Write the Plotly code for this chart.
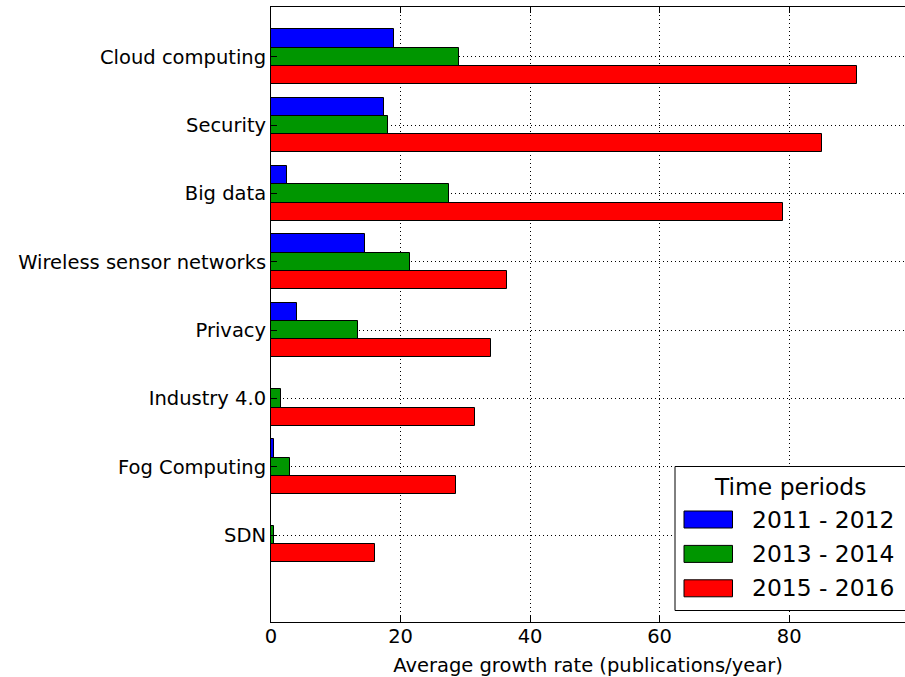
import plotly.graph_objects as go

# Average growth rate of publications per research topic
categories = [
    "Cloud computing",
    "Security",
    "Big data",
    "Wireless sensor networks",
    "Privacy",
    "Industry 4.0",
    "Fog Computing",
    "SDN",
]
period_labels = ["2011 - 2012", "2013 - 2014", "2015 - 2016"]
growth_2011_2012 = [19.0, 17.5, 2.5, 14.5, 4.0, 0.0, 0.5, 0.0]
growth_2013_2014 = [29.0, 18.0, 27.5, 21.5, 13.5, 1.5, 3.0, 0.5]
growth_2015_2016 = [90.5, 85.0, 79.0, 36.5, 34.0, 31.5, 28.5, 16.0]
x_ticks = [0, 20, 40, 60, 80]

series = [growth_2011_2012, growth_2013_2014, growth_2015_2016]
colors = ["#0000ff", "#009600", "#ff0000"]

W, H = 905, 677
PLOT_L, PLOT_R, PLOT_T, PLOT_B = 271, 905, 7, 622
FONT = "DejaVu Sans"
TICK_SIZE = 19.5
LEGEND_SIZE = 23.4

bar_w = 0.8 / 3
offsets = [-bar_w, 0.0, bar_w]

fig = go.Figure()
for vals, off, col, name in zip(series, offsets, colors, period_labels):
    fig.add_trace(go.Bar(
        x=vals,
        y=[i + off for i in range(len(categories))],
        orientation="h",
        width=bar_w,
        name=name,
        marker=dict(color=col, line=dict(color="black", width=1)),
        showlegend=False,
    ))


def px_x(x):
    return (x - PLOT_L) / (PLOT_R - PLOT_L)


def px_y(y):
    return (PLOT_B - y) / (PLOT_B - PLOT_T)


# Legend drawn as a framed box with wide swatches
shapes = [dict(type="rect", xref="paper", yref="paper",
               x0=px_x(675), x1=px_x(920), y0=px_y(610.5), y1=px_y(466.5),
               line=dict(color="black", width=1), fillcolor="white", layer="above")]
annotations = [dict(text="Time periods", xref="paper", yref="paper",
                    x=px_x(790), y=px_y(487), xanchor="center", yanchor="middle",
                    showarrow=False, font=dict(family=FONT, size=LEGEND_SIZE, color="black"))]
for k, (col, name) in enumerate(zip(colors, period_labels)):
    cy = 519.5 + k * 34.4
    shapes.append(dict(type="rect", xref="paper", yref="paper",
                       x0=px_x(684), x1=px_x(732.5), y0=px_y(cy + 8.5), y1=px_y(cy - 8.5),
                       line=dict(color="black", width=1), fillcolor=col, layer="above"))
    annotations.append(dict(text=name, xref="paper", yref="paper",
                            x=px_x(750), y=px_y(cy), xanchor="left", yanchor="middle",
                            showarrow=False,
                            font=dict(family=FONT, size=LEGEND_SIZE, color="black")))

unit = (PLOT_B - PLOT_T) / 9.0
y_top = -(56.8 - PLOT_T) / unit
y_bottom = y_top + 9.0

fig.update_layout(
    width=W, height=H,
    margin=dict(l=PLOT_L, r=W - PLOT_R, t=PLOT_T, b=H - PLOT_B),
    paper_bgcolor="white", plot_bgcolor="white",
    font=dict(family=FONT, size=TICK_SIZE, color="black"),
    barmode="overlay",
    bargap=0,
    shapes=shapes,
    annotations=annotations,
    xaxis=dict(
        range=[0, (PLOT_R - PLOT_L) / 6.477],
        tickvals=x_ticks,
        ticks="inside", ticklen=6, tickcolor="black", tickwidth=1,
        ticklabelstandoff=-3,
        showline=True, linecolor="black", linewidth=1, mirror="ticks",
        showgrid=True, gridcolor="black", gridwidth=1, griddash="1px,3px",
        zeroline=False,
        tickfont=dict(family=FONT, size=TICK_SIZE, color="black"),
        title=dict(text="Average growth rate (publications/year)", standoff=11,
                   font=dict(family=FONT, size=TICK_SIZE, color="black")),
    ),
    yaxis=dict(
        range=[y_bottom, y_top],
        tickvals=list(range(len(categories))),
        ticktext=categories,
        ticks="inside", ticklen=6, tickcolor="black", tickwidth=1,
        showline=True, linecolor="black", linewidth=1, mirror=False,
        showgrid=True, gridcolor="black", gridwidth=1, griddash="1px,3px",
        zeroline=False,
        tickfont=dict(family=FONT, size=TICK_SIZE, color="black"),
    ),
)

fig.write_html("out.html")
